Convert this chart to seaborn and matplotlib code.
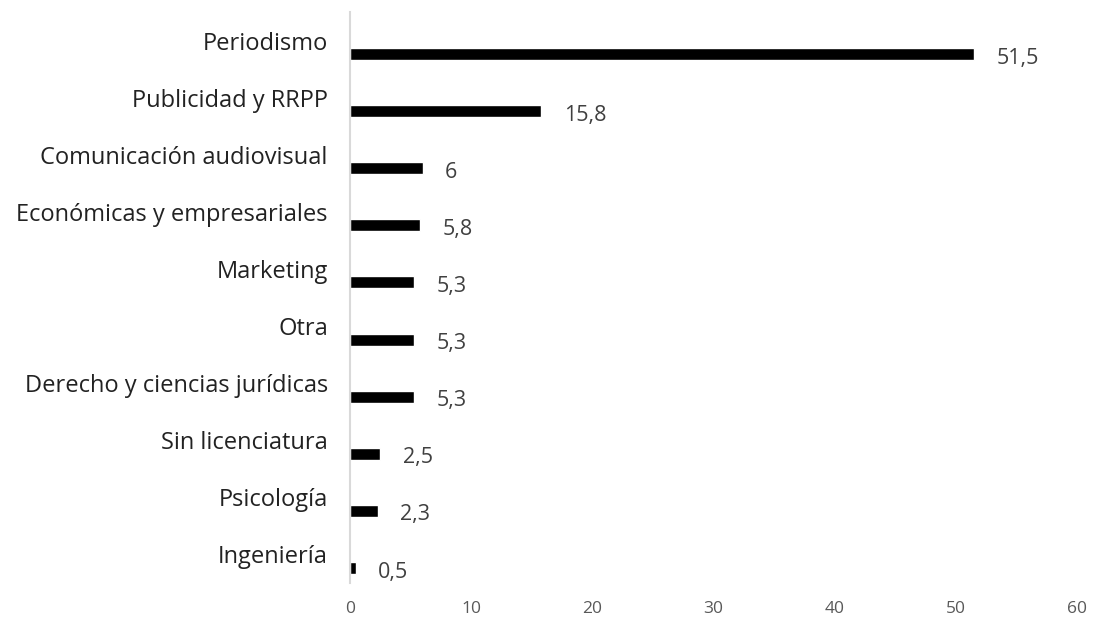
import matplotlib
matplotlib.use("Agg")
import matplotlib.pyplot as plt
import seaborn as sns
import pandas as pd

categories = ["Periodismo", "Publicidad y RRPP", "Comunicación audiovisual",
              "Económicas y empresariales", "Marketing", "Otra",
              "Derecho y ciencias jurídicas", "Sin licenciatura", "Psicología", "Ingeniería"]
values = [51.5, 15.8, 6, 5.8, 5.3, 5.3, 5.3, 2.5, 2.3, 0.5]
value_labels = ["51,5", "15,8", "6", "5,8", "5,3", "5,3", "5,3", "2,5", "2,3", "0,5"]
x_ticks = [0, 10, 20, 30, 40, 50, 60]

df = pd.DataFrame({"cat": categories, "val": values})

sns.set_style("white")
fig = plt.figure(figsize=(11, 6.23), dpi=100)
ax = fig.add_axes([350/1100, 1 - 583/623, 727/1100, 571/623])

sns.barplot(data=df, y="cat", x="val", orient="h", color="black",
            width=0.21, saturation=1, ax=ax)

offset = 0.236
for p in ax.patches:
    p.set_y(p.get_y() + offset)

for i, (v, lab) in enumerate(zip(values, value_labels)):
    ax.annotate(lab, xy=(v, i + offset), xytext=(16, -3), textcoords="offset points",
                ha="left", va="center", fontsize=15.5, color="#404040",
                family=["Open Sans", "DejaVu Sans"])

ax.set_xlim(0, 60)
ax.set_ylim(len(categories) - 0.5, -0.5)
ax.set_xticks(x_ticks)
ax.set_xticklabels([str(t) for t in x_ticks], fontsize=12.5, color="#595959",
                   family=["Open Sans", "DejaVu Sans"])
ax.set_yticks(range(len(categories)))
ax.set_yticklabels(categories, fontsize=17, color="#222222",
                   family=["Open Sans", "DejaVu Sans"])
ax.tick_params(axis="y", length=0, pad=16)
ax.tick_params(axis="x", length=0, pad=13)
ax.set_xlabel("")
ax.set_ylabel("")
for s in ["top", "right", "bottom"]:
    ax.spines[s].set_visible(False)
ax.spines["left"].set_color("#d9d9d9")
ax.spines["left"].set_linewidth(1.5)
ax.grid(False)

fig.savefig("out.png", dpi=100)
